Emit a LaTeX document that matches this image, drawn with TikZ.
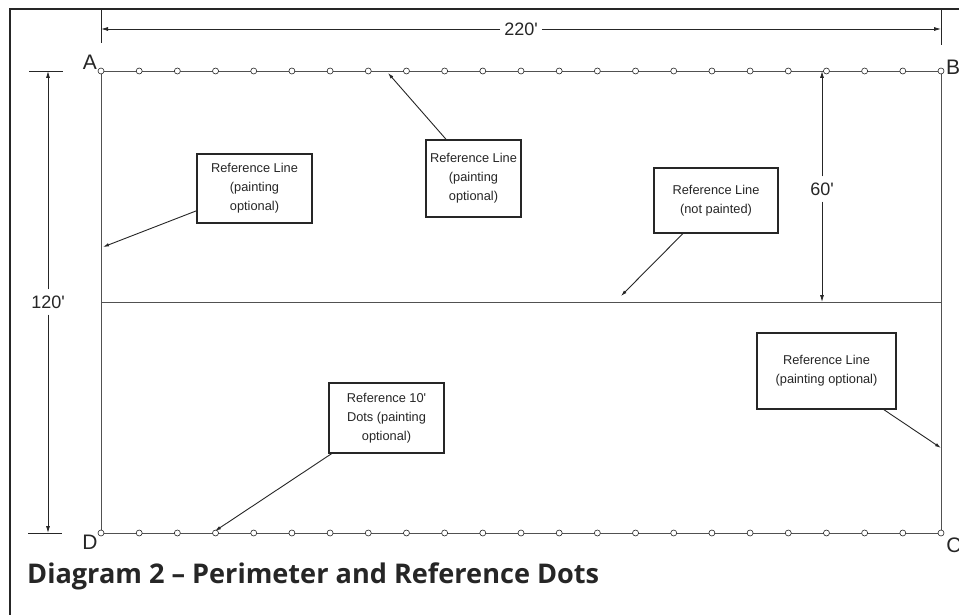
\documentclass[tikz,border=0pt]{standalone}
\usepackage{fontspec}
\usepackage{graphicx}
\newfontfamily\lsans{Liberation Sans}
\newfontfamily\titlefont{Open Sans}
\usetikzlibrary{arrows.meta,calc}
\definecolor{ink}{HTML}{262626}
\begin{document}
\begin{tikzpicture}[x=1pt,y=-1pt,
  frame/.style={line width=2pt, draw=ink},
  perim/.style={line width=0.9pt, draw=ink!80},
  dim/.style={line width=0.8pt, draw=ink},
  dimarrow/.style={dim, -{Latex[length=7pt,width=4pt]}},
  refdot/.style={circle, draw=ink, fill=white, line width=0.6pt, minimum size=6pt, inner sep=0pt},
  callout/.style={draw=ink, line width=1.1pt, align=center, font=\lsans\fontsize{12.8}{19}\selectfont, inner sep=0pt, text=ink},
  pointer/.style={line width=0.9pt, draw=ink, -{Latex[length=6pt,width=3.5pt]}},
  corner/.style={font=\lsans\fontsize{21}{21}\selectfont, text=ink, inner sep=0pt},
  dimlabel/.style={font=\lsans\fontsize{18}{18}\selectfont, text=ink, inner xsep=4pt, inner ysep=6pt}
]
\useasboundingbox (0,0) rectangle (959,615);
\fill[white] (0,0) rectangle (959,615);

% outer frame
\draw[frame] (10,615) -- (10,9) -- (959,9);

% corners
\coordinate (A) at (101,71);
\coordinate (B) at (941,71);
\coordinate (C) at (941,533);
\coordinate (D) at (101,533);
\coordinate (ML) at (101,302);
\coordinate (MR) at (941,302);

% perimeter and middle reference line
\draw[perim] (A) -- (B) -- (C) -- (D) -- cycle;
\draw[perim] (ML) -- (MR);

% reference dots
\foreach \i in {0,...,22} {
  \node[refdot] (t\i) at ({101+\i*38.181818},71) {};
  \node[refdot] (b\i) at ({101+\i*38.181818},533) {};
}

% corner labels
\node[corner] (lA) at (90,62) {A};
\node[corner] (lB) at (953,67) {B};
\node[corner] (lC) at (954,545) {C};
\node[corner] (lD) at (90,542) {D};

% 220' dimension
\coordinate (x1top) at (101,9);
\coordinate (x1bot) at (101,43);
\coordinate (x2top) at (941,9);
\coordinate (x2bot) at (941,45);
\draw[dim] (x1top) -- (x1bot);
\draw[dim] (x2top) -- (x2bot);
\node[dimlabel] (d220) at (521,29) {220'};
\coordinate (e220l) at (101,29);
\coordinate (e220r) at (941,29);
\draw[dimarrow] (d220.west) -- (e220l);
\draw[dimarrow] (d220.east) -- (e220r);

% 120' dimension
\coordinate (y1l) at (29,71);
\coordinate (y1r) at (63,71);
\coordinate (y2l) at (28,533);
\coordinate (y2r) at (62,533);
\draw[dim] (y1l) -- (y1r);
\draw[dim] (y2l) -- (y2r);
\node[dimlabel] (d120) at (48,302) {120'};
\coordinate (e120t) at (48,71);
\coordinate (e120b) at (48,533);
\draw[dimarrow] (d120.north) -- (e120t);
\draw[dimarrow] (d120.south) -- (e120b);

% 60' dimension
\node[dimlabel] (d60) at (822,189) {60'};
\coordinate (e60t) at (822,71);
\coordinate (e60b) at (822,302);
\draw[dimarrow] (d60.north) -- (e60t);
\draw[dimarrow] (d60.south) -- (e60b);

% callouts
\node[callout, minimum width=115pt, minimum height=69pt] (c1) at (254.5,188.5)
  {Reference Line\\(painting\\optional)};
\node[callout, minimum width=95pt, minimum height=77pt] (c2) at (473.5,178.5)
  {Reference Line\\(painting\\optional)};
\node[callout, minimum width=124pt, minimum height=65pt] (c3) at (716,200.5)
  {Reference Line\\(not painted)};
\node[callout, minimum width=115pt, minimum height=70pt] (c4) at (386.5,418)
  {Reference 10'\\Dots (painting\\optional)};
\node[callout, minimum width=139pt, minimum height=76pt] (c5) at (826.5,371)
  {Reference Line\\(painting optional)};

\coordinate (p1) at (103,247);
\coordinate (p2) at (388,73);
\coordinate (p3) at (621,296);
\coordinate (p4) at (215,531);
\coordinate (p5) at (941,448);
\draw[pointer] (c1.201) -- (p1);
\draw[pointer] (c2.125) -- (p2);
\draw[pointer] (c3.225) -- (p3);
\draw[pointer] (c4.213) -- (p4);
\draw[pointer] (c5.326) -- (p5);

% title
\node[anchor=base west, inner sep=0pt, text=ink] (title) at (27,583)
  {\resizebox{572pt}{!}{\titlefont\bfseries Diagram 2 – Perimeter and Reference Dots}};
\end{tikzpicture}
\end{document}
